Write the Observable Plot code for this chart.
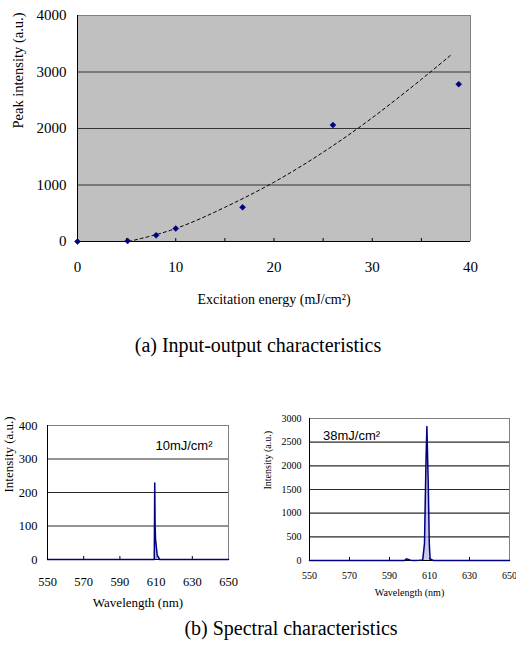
<!DOCTYPE html>
<html><head><meta charset="utf-8">
<script src="https://cdn.jsdelivr.net/npm/d3@7"></script>
<script src="https://cdn.jsdelivr.net/npm/@observablehq/plot@0.6"></script>
<style>
html,body{margin:0;padding:0;background:#fff;}
body{width:516px;height:648px;position:relative;overflow:hidden;font-family:"Liberation Serif","Times New Roman",serif;}
.box{position:absolute;}
.cap{position:absolute;white-space:nowrap;font-size:20px;line-height:24px;transform:translateX(-50%);font-family:"Liberation Serif","Times New Roman",serif;color:#000;}
svg{overflow:visible;}
.box svg text{font-family:"Liberation Serif","Times New Roman",serif;}
.box svg > g[aria-label="text"]:last-of-type text.note, .box svg text.note{font-family:"Liberation Sans",Arial,sans-serif;}
</style></head><body>
<div id="chartA" class="box" style="left:0;top:0;width:516px;"></div>
<div id="capA" class="cap" style="left:258px;top:333px;"></div>
<div id="chartB1" class="box" style="left:0;top:400px;width:260px;"></div>
<div id="chartB2" class="box" style="left:256px;top:400px;width:260px;"></div>
<div id="capB" class="cap" style="left:291px;top:616px;"></div>
<script>
// ---------- (a) Input-output characteristics ----------
const energy = [0, 5.1, 8, 10, 16.8, 26, 38.8];
const peakIntensity = [0, 10, 110, 230, 605, 2060, 2785];
// dashed trend curve
const trendEnergy = [5.2, 10, 15, 20, 25, 30, 35, 38];
const trendIntensity = [0, 230, 605, 1050, 1580, 2190, 2870, 3300];
const ioXTicks = [0, 10, 20, 30, 40];
const ioXMinorTicks = [5, 10, 15, 20, 25, 30, 35];
const ioYTicks = [0, 1000, 2000, 3000, 4000];
const ioGridLines = [1000, 2000, 3000];
const ioXLabel = "Excitation energy (mJ/cm²)";
const ioYLabel = "Peak intensity (a.u.)";
const captionA = "(a) Input-output characteristics";

// ---------- (b) Spectral characteristics ----------
const wavelength10 = [550, 609.0, 609.25, 609.45, 609.7, 610.6, 612, 650];
const intensity10 = [0, 0, 228, 100, 60, 13, 0, 0];
const wavelength38 = [550, 597.5, 598.5, 599.5, 600.5, 602, 605, 606.6, 607.5, 608.2, 608.7, 609.4, 609.9, 610.3, 611, 612, 650];
const intensity38 = [0, 0, 35, 20, 5, 0, 5, 10, 358, 2000, 2830, 1550, 352, 30, 20, 0, 0];
const specXTicks = [550, 570, 590, 610, 630, 650];
const specInnerTicks = [570, 590, 610, 630];
const spec10YTicks = [0, 100, 200, 300, 400];
const spec38YTicks = [0, 500, 1000, 1500, 2000, 2500, 3000];
const specXLabel = "Wavelength (nm)";
const specYLabel = "Intensity (a.u.)";
const note10 = "10mJ/cm²";
const note38 = "38mJ/cm²";
const captionB = "(b) Spectral characteristics";

const serif = "'Liberation Serif', 'Times New Roman', serif";
const sans = "'Liberation Sans', Arial, sans-serif";
const plain = d3.format("d");

// ----- chart (a) -----
const ioPoints = energy.map((x, i) => ({x, y: peakIntensity[i]}));
const trendPoints = trendEnergy.map((x, i) => ({x, y: trendIntensity[i]}));
const A = {w: 516, ml: 77, mr: 46, mt: 15, mb: 70, ph: 226};
const chartA = Plot.plot({
  width: A.w, height: A.mt + A.ph + A.mb,
  marginLeft: A.ml, marginRight: A.mr, marginTop: A.mt, marginBottom: A.mb,
  x: {domain: [0, 40], label: null},
  y: {domain: [0, 4000], label: null},
  style: {fontFamily: serif, fontSize: "14px", background: "transparent", color: "#000"},
  marks: [
    Plot.frame({fill: "#c0c0c0", stroke: null}),
    Plot.gridY(ioGridLines, {stroke: "#333", strokeOpacity: 1, strokeWidth: 1.2}),
    Plot.ruleY([4000], {stroke: "#808080"}),
    Plot.ruleX([40], {stroke: "#808080"}),
    Plot.ruleX([0], {stroke: "#000"}),
    Plot.ruleY([0], {stroke: "#000", strokeWidth: 1.2}),
    Plot.ruleX(ioXMinorTicks, {insetTop: A.ph - 3, stroke: "#000"}),
    Plot.axisX(ioXTicks, {tickSize: 0, tickPadding: 20, fontSize: 15, fontFamily: serif, tickFormat: plain, label: null}),
    Plot.axisY(ioYTicks, {tickSize: 0, tickPadding: 11, fontSize: 15, fontFamily: serif, tickFormat: plain, label: null}),
    Plot.line(trendPoints, {x: "x", y: "y", curve: "natural", stroke: "#000", strokeWidth: 1, strokeDasharray: "3,3"}),
    Plot.dot(ioPoints, {x: "x", y: "y", symbol: "diamond2", r: 2.7, fill: "#000080", stroke: "#000080", strokeWidth: 0.5}),
    Plot.text([ioXLabel], {frameAnchor: "bottom", lineAnchor: "middle", dy: 58, fontSize: 14, fontFamily: serif}),
    Plot.text([ioYLabel], {frameAnchor: "left", lineAnchor: "middle", dx: -59, rotate: -90, fontSize: 14.5, fontFamily: serif})
  ]
});
document.getElementById("chartA").append(chartA);
document.getElementById("capA").textContent = captionA;

// ----- spectrum charts -----
function spectrum({wl, inten, yMax, yTicks, grid, ml, mr, mt, ph, mb, width, tickFont, tickPadX, tickPadY, xLabelDy, yLabelDx, labelFont, note, noteAnchor, noteDx, noteDy}) {
  const pts = wl.map((x, i) => ({x, y: inten[i]}));
  const svg = Plot.plot({
    width, height: mt + ph + mb,
    marginLeft: ml, marginRight: mr, marginTop: mt, marginBottom: mb,
    x: {domain: [550, 650], label: null},
    y: {domain: [0, yMax], label: null},
    style: {fontFamily: serif, fontSize: tickFont + "px", background: "transparent", color: "#000"},
    marks: [
      Plot.frame({fill: "#fff", stroke: null}),
      Plot.gridY(grid, {stroke: "#2a2a2a", strokeOpacity: 1, strokeWidth: 1.1}),
      Plot.ruleY([yMax], {stroke: "#808080"}),
      Plot.ruleX([650], {stroke: "#808080"}),
      Plot.ruleX([550], {stroke: "#000"}),
      Plot.ruleY([0], {stroke: "#000"}),
      Plot.ruleX(specInnerTicks, {insetTop: ph - 3, stroke: "#000"}),
      Plot.axisX(specXTicks, {tickSize: 0, tickPadding: tickPadX, fontSize: tickFont, fontFamily: serif, tickFormat: plain, label: null}),
      Plot.axisY(yTicks, {tickSize: 0, tickPadding: tickPadY, fontSize: tickFont, fontFamily: serif, tickFormat: plain, label: null}),
      Plot.areaY(pts, {x: "x", y: "y", fill: "#b4b4e2", fillOpacity: 0.7}),
      Plot.line(pts, {x: "x", y: "y", stroke: "#000080", strokeWidth: 1.5}),
      Plot.text([specXLabel], {frameAnchor: "bottom", lineAnchor: "middle", dy: xLabelDy, fontSize: labelFont, fontFamily: serif}),
      Plot.text([specYLabel], {frameAnchor: "left", lineAnchor: "middle", dx: yLabelDx, rotate: -90, fontSize: labelFont, fontFamily: serif}),
      Plot.text([note], {frameAnchor: noteAnchor, lineAnchor: "middle", textAnchor: noteAnchor.endsWith("right") ? "end" : "start", dx: noteDx, dy: noteDy, fontSize: 13, fontFamily: sans})
    ]
  });
  // mark the annotation text so the sans-serif face is kept
  d3.select(svg).selectAll("text").filter(function() { return this.textContent === note; }).classed("note", true);
  return svg;
}

const chartB1 = spectrum({
  wl: wavelength10, inten: intensity10, yMax: 400, yTicks: spec10YTicks, grid: [100, 200, 300],
  ml: 47, mr: 32, mt: 25, ph: 134, mb: 52, width: 260,
  tickFont: 12.5, tickPadX: 18, tickPadY: 10, xLabelDy: 43.5, yLabelDx: -39, labelFont: 13,
  note: note10, noteAnchor: "top-right", noteDx: -16, noteDy: 20
});
document.getElementById("chartB1").append(chartB1);

const chartB2 = spectrum({
  wl: wavelength38, inten: intensity38, yMax: 3000, yTicks: spec38YTicks, grid: [500, 1000, 1500, 2000, 2500],
  ml: 53, mr: 7, mt: 18, ph: 142, mb: 40, width: 260,
  tickFont: 10, tickPadX: 11, tickPadY: 8, xLabelDy: 32.7, yLabelDx: -42, labelFont: 10,
  note: note38, noteAnchor: "top-left", noteDx: 13.5, noteDy: 17.5
});
document.getElementById("chartB2").append(chartB2);
document.getElementById("capB").textContent = captionB;
</script>
</body></html>
